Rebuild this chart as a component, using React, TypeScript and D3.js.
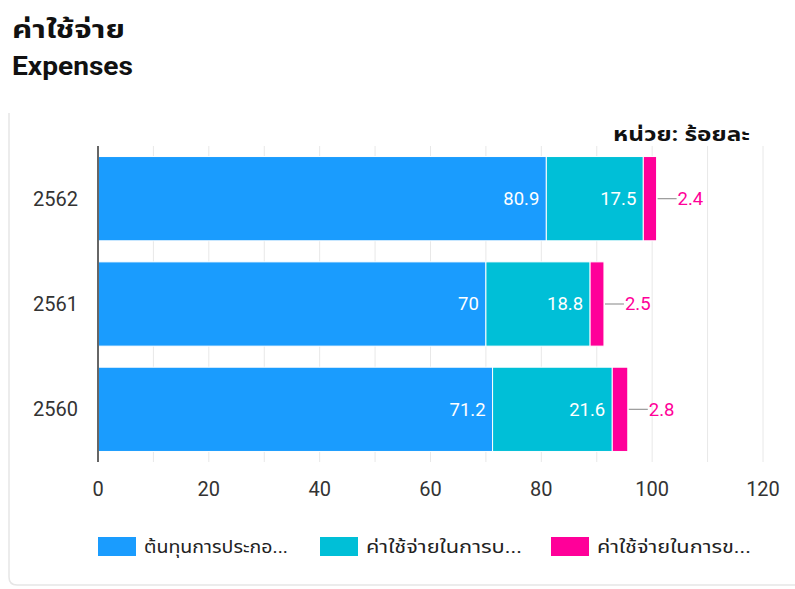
import React from "react";
import * as d3 from "d3";

const years = ["2562", "2561", "2560"];
const seriesNames = ["ต้นทุนการประกอ...", "ค่าใช้จ่ายในการบ...", "ค่าใช้จ่ายในการข..."];
const costOfOperation = [80.9, 70, 71.2];
const adminExpense = [17.5, 18.8, 21.6];
const sellingExpense = [2.4, 2.5, 2.8];
const xTicks = [0, 20, 40, 60, 80, 100, 120];
const gridValues = [10, 20, 30, 40, 50, 60, 70, 80, 90, 100, 110, 120];
const colors = ["#1a9cfe", "#00bfd7", "#ff0099"];

const W = 795;
const H = 589;
const FONT = "Roboto, 'Noto Sans', 'Noto Sans Thai', sans-serif";

export default function App() {
  const x = d3.scaleLinear().domain([0, 120]).range([98, 763]);
  const y = d3.scaleBand().domain(years).range([146, 462]).paddingInner(0.2).paddingOuter(0.1);
  const rows = years.map((yr, i) => ({
    year: yr,
    vals: [costOfOperation[i], adminExpense[i], sellingExpense[i]],
  }));
  const stack = d3.stack<any>().keys(["0", "1", "2"]).value((d: any, k: string) => d.vals[+k]);
  const stacked = stack(rows as any);
  const bw = y.bandwidth();
  const legendX = [98, 320, 551];
  const legendLen = [144, 156, 154];

  return (
    <svg width={W} height={H} style={{ position: "absolute", left: 0, top: 0, display: "block" }}>
      <rect x={0} y={0} width={W} height={H} fill="#fff" />
      <path d={`M9,113 L9,577 Q9,585 17,585 L${W + 5},585`} fill="none" stroke="#e6e6e6" strokeWidth={1.5} />
      <text x={12} y={38} fontFamily={FONT} fontWeight={700} fontSize={25} fill="#111" textLength={113} lengthAdjust="spacingAndGlyphs">ค่าใช้จ่าย</text>
      <text x={12} y={75} fontFamily={FONT} fontWeight={700} fontSize={25} fill="#111" textLength={121} lengthAdjust="spacingAndGlyphs">Expenses</text>
      <text x={613} y={141} fontFamily={FONT} fontWeight={700} fontSize={20} fill="#111" textLength={137} lengthAdjust="spacingAndGlyphs">หน่วย: ร้อยละ</text>

      {gridValues.map((v) => (
        <line key={v} x1={x(v)} x2={x(v)} y1={146} y2={462} stroke="#e8e8e8" strokeWidth={1} />
      ))}

      {stacked.map((layer, si) =>
        layer.map((d: any, i) => (
          <rect
            key={`${si}-${i}`}
            x={x(d[0])}
            y={y(years[i])!}
            width={x(d[1]) - x(d[0])}
            height={bw}
            fill={colors[si]}
            stroke="#fff"
            strokeWidth={1}
          />
        ))
      )}

      {stacked.map((layer, si) =>
        layer.map((d: any, i) => {
          const cy = y(years[i])! + bw / 2;
          const v = rows[i].vals[si];
          if (si < 2) {
            return (
              <text key={`l${si}-${i}`} x={x(d[1]) - 7} y={cy} dy="0.35em" textAnchor="end" fontFamily={FONT} fontSize={18.5} fill="#fff">
                {String(v)}
              </text>
            );
          }
          const ex = x(d[1]);
          return (
            <g key={`l${si}-${i}`}>
              <line x1={ex + 1} x2={ex + 20} y1={cy} y2={cy} stroke="#999" strokeWidth={1.2} />
              <text x={ex + 21} y={cy} dy="0.35em" fontFamily={FONT} fontSize={18.5} fill="#ff0099">{String(v)}</text>
            </g>
          );
        })
      )}

      <line x1={98} x2={98} y1={146} y2={462} stroke="#666" strokeWidth={2} />

      {years.map((yr) => (
        <text key={yr} x={78} y={y(yr)! + bw / 2} dy="0.35em" textAnchor="end" fontFamily={FONT} fontSize={20} fill="#333">{yr}</text>
      ))}

      {xTicks.map((t) => (
        <text key={t} x={x(t)} y={489} dy="0.35em" textAnchor="middle" fontFamily={FONT} fontSize={20} fill="#333">{t}</text>
      ))}

      {seriesNames.map((n, i) => {
        const lx = legendX[i];
        return (
          <g key={n}>
            <rect x={lx} y={537} width={38} height={19} fill={colors[i]} />
            <text x={lx + 46} y={547} dy="0.35em" fontFamily={FONT} fontSize={18} fill="#222" textLength={legendLen[i]} lengthAdjust="spacingAndGlyphs">{n}</text>
          </g>
        );
      })}
    </svg>
  );
}
